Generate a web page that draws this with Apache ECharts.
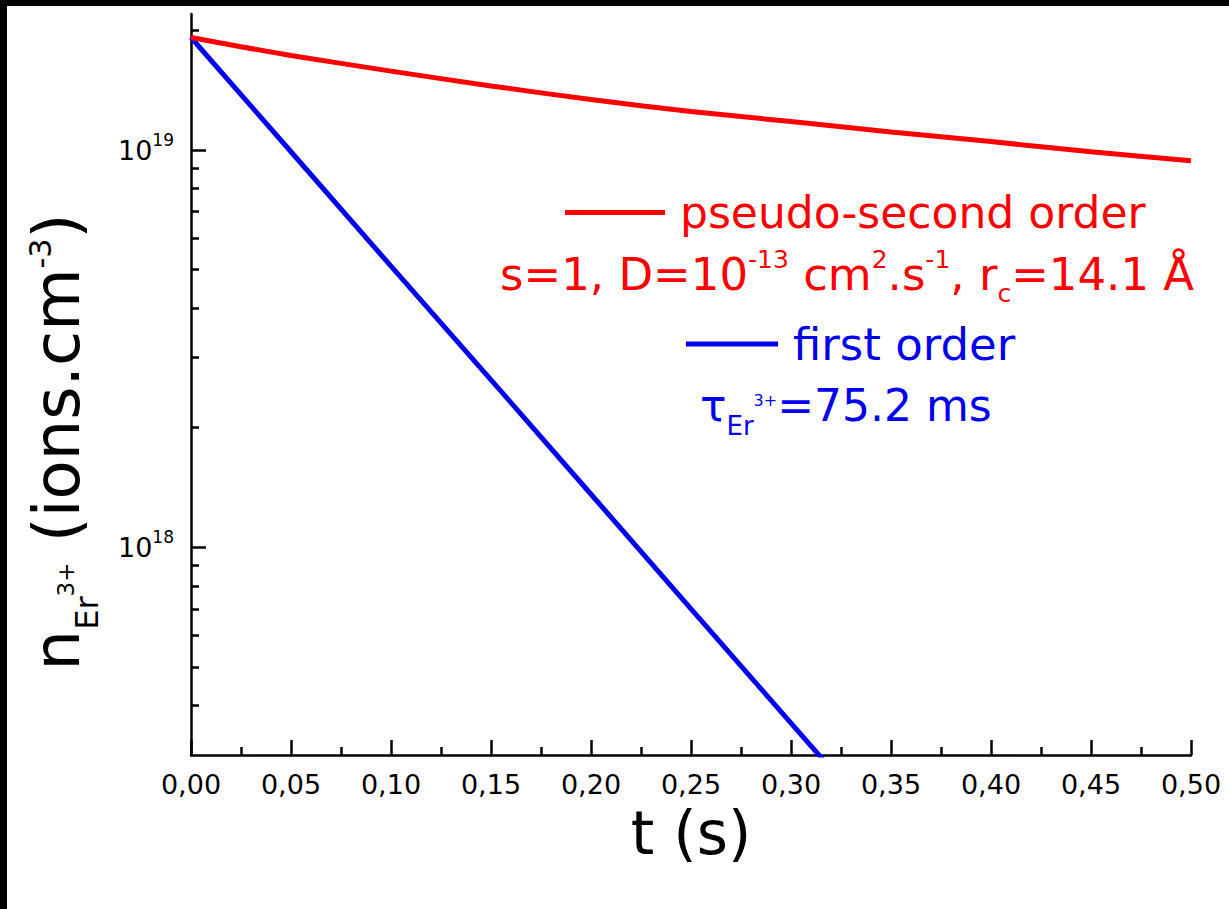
<!DOCTYPE html>
<html><head><meta charset="utf-8">
<script src="https://cdn.jsdelivr.net/npm/echarts@6/dist/echarts.min.js"></script>
<style>html,body{margin:0;padding:0;background:#fff}#c{width:1229px;height:909px}</style>
</head><body><div id="c"></div>
<script>
// ---- data ----
const secondOrderT = [0, 0.025, 0.05, 0.10, 0.15, 0.20, 0.25, 0.30, 0.35, 0.40, 0.45, 0.50];
const secondOrderN = [1.92e19, 1.82e19, 1.73e19, 1.58e19, 1.45e19, 1.34e19, 1.25e19, 1.18e19, 1.11e19, 1.05e19, 9.9e18, 9.4e18];
const firstOrderT = [0, 0.05, 0.10, 0.15, 0.20, 0.25, 0.30, 0.32];
const firstOrderN = [1.92e19, 9.9e18, 5.1e18, 2.64e18, 1.36e18, 7.0e17, 3.61e17, 2.77e17];
const yMajorTicks = [1e18, 1e19];
const yMinorTicks = [4e17, 5e17, 6e17, 7e17, 8e17, 9e17, 2e18, 3e18, 4e18, 5e18, 6e18, 7e18, 8e18, 9e18, 2e19];
const yMin = 3e17, yMax = 2.2e19;
const xMin = 0, xMax = 0.5, xStep = 0.05;
const seriesNames = ['pseudo-second order', 'first order'];

const FF = 'DejaVu Sans';
const RED = '#ff0000', BLUE = '#0000ee';
const zip = (a, b) => a.map((v, i) => [v, b[i]]);

const chart = echarts.init(document.getElementById('c'), null, {renderer: 'svg'});
chart.setOption({
  animation: false,
  backgroundColor: '#fff',
  grid: {left: 191, right: 38, top: 14, bottom: 154, containLabel: false, outerBoundsMode: 'none'},
  legend: [
    {data: [seriesNames[0]], left: 565, top: 190.5, padding: 0, icon: 'rect', itemWidth: 100, itemHeight: 5,
     selectedMode: false, textStyle: {color: RED, fontSize: 44, fontFamily: FF, padding: [12, 0, 0, 10]}},
    {data: [seriesNames[1]], left: 686, top: 321.5, padding: 0, icon: 'rect', itemWidth: 92, itemHeight: 5,
     selectedMode: false, textStyle: {color: BLUE, fontSize: 45, fontFamily: FF, padding: [12, 0, 0, 10]}}
  ],
  xAxis: {
    type: 'value', min: xMin, max: xMax, interval: xStep,
    name: 't (s)', nameLocation: 'middle', nameGap: 44,
    nameTextStyle: {fontSize: 60, fontFamily: FF, color: '#000'},
    axisLine: {lineStyle: {color: '#000', width: 2.5}},
    axisTick: {inside: true, length: 15, lineStyle: {color: '#000', width: 2.5}},
    minorTick: {show: true, splitNumber: 2, length: 8, lineStyle: {color: '#000', width: 2.5}},
    axisLabel: {fontSize: 27, fontFamily: FF, color: '#000', margin: 16,
      formatter: v => v.toFixed(2).replace('.', ',')},
    splitLine: {show: false}
  },
  yAxis: [
    {
      type: 'log', min: yMin, max: yMax, position: 'left',
      name: '{n|n}{sub|Er}{ss|3+}{n| (ions.cm}{sup|-3}{n|)}',
      nameLocation: 'middle', nameRotate: 90, nameGap: 88,
      nameTextStyle: {fontFamily: FF, color: '#000', padding: [0, 115, 0, 0],
        rich: {
          n: {fontSize: 64, fontFamily: FF, color: '#000', verticalAlign: 'bottom', padding: [0, 0, 14, 0]},
          sub: {fontSize: 32, fontFamily: FF, color: '#000', verticalAlign: 'bottom'},
          ss: {fontSize: 23, fontFamily: FF, color: '#000', verticalAlign: 'bottom', padding: [0, 0, 26, 0]},
          sup: {fontSize: 30, fontFamily: FF, color: '#000', verticalAlign: 'bottom', padding: [0, 0, 48, 0]}
        }},
      axisLine: {lineStyle: {color: '#000', width: 2.5}},
      axisTick: {inside: true, length: 15, customValues: yMajorTicks, lineStyle: {color: '#000', width: 2.5}},
      axisLabel: {customValues: yMajorTicks, margin: 17, fontFamily: FF, color: '#000',
        formatter: v => '{b|10}{s|' + Math.round(Math.log10(v)) + '}',
        rich: {
          b: {fontSize: 27, fontFamily: FF, color: '#000', verticalAlign: 'bottom', padding: [0, 0, 5, 0]},
          s: {fontSize: 17, fontFamily: FF, color: '#000', verticalAlign: 'bottom', padding: [0, 0, 21, 0]}
        }},
      splitLine: {show: false}
    },
    {
      type: 'log', min: yMin, max: yMax, position: 'left',
      axisLine: {show: false},
      axisTick: {inside: true, length: 8, customValues: yMinorTicks, lineStyle: {color: '#000', width: 2.5}},
      axisLabel: {show: false},
      splitLine: {show: false}
    }
  ],
  series: [
    {name: seriesNames[1], type: 'line', data: zip(firstOrderT, firstOrderN), showSymbol: false, symbol: 'none',
     lineStyle: {color: BLUE, width: 5}, itemStyle: {color: BLUE}, clip: true, z: 3},
    {name: seriesNames[0], type: 'line', data: zip(secondOrderT, secondOrderN), showSymbol: false, symbol: 'none',
     smooth: 0.3, lineStyle: {color: RED, width: 5}, itemStyle: {color: RED}, clip: true, z: 4}
  ],
  graphic: [
    {type: 'rect', shape: {x: 0, y: 0, width: 1229, height: 6}, style: {fill: '#000'}, silent: true},
    {type: 'rect', shape: {x: 0, y: 0, width: 7, height: 909}, style: {fill: '#000'}, silent: true},
    {type: 'text', x: 500, y: 276, silent: true, style: {
      text: '{b|s=1, D=10}{sup|-13}{b| cm}{sup|2}{b|.s}{sup|-1}{b|, r}{sub|c}{b|=14.1 Å}',
      align: 'left', verticalAlign: 'middle', fill: RED, fontFamily: FF,
      rich: {
        b: {fontSize: 45, fontFamily: FF, fill: RED, verticalAlign: 'bottom', padding: [0, 0, 9, 0]},
        sup: {fontSize: 25, fontFamily: FF, fill: RED, verticalAlign: 'bottom', padding: [0, 0, 34, 0]},
        sub: {fontSize: 25, fontFamily: FF, fill: RED, verticalAlign: 'bottom'}
      }}},
    {type: 'text', x: 700, y: 411, silent: true, style: {
      text: '{b|τ}{sub|Er}{ss|3+}{b|=75.2 ms}',
      align: 'left', verticalAlign: 'middle', fill: BLUE, fontFamily: FF,
      rich: {
        b: {fontSize: 44, fontFamily: FF, fill: BLUE, verticalAlign: 'bottom', padding: [0, 0, 11.5, 0]},
        sub: {fontSize: 26, fontFamily: FF, fill: BLUE, verticalAlign: 'bottom'},
        ss: {fontSize: 16, fontFamily: FF, fill: BLUE, verticalAlign: 'bottom', padding: [0, 0, 30, 0]}
      }}}
  ]
});
</script>
</body></html>
